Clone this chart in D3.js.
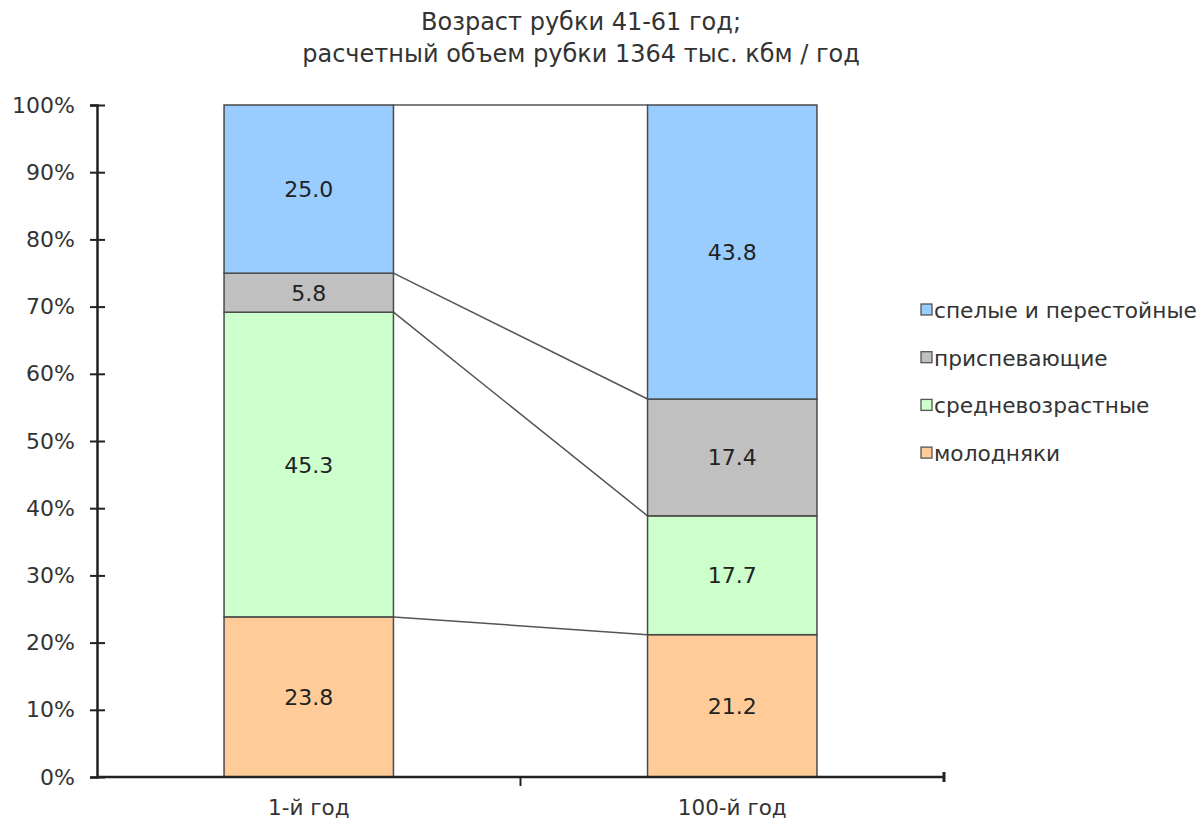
<!DOCTYPE html>
<html>
<head>
<meta charset="utf-8">
<script src="https://cdn.jsdelivr.net/npm/d3@7"></script>
<style>
  html, body { margin: 0; padding: 0; background: #fff; }
  svg { display: block; font-family: "DejaVu Sans", Verdana, sans-serif; }
</style>
</head>
<body>
<svg id="chart" width="1199" height="821"></svg>
<script>
// Доли возрастных групп по запасу, %
const categories = ["1-й год", "100-й год"];
const seriesNames = ["молодняки", "средневозрастные", "приспевающие", "спелые и перестойные"];
const molodnyaki = [23.8, 21.2];
const srednevozrastnye = [45.3, 17.7];
const prispevayushchie = [5.8, 17.4];
const spelye = [25.0, 43.8];
const yTickLabels = ["0%", "10%", "20%", "30%", "40%", "50%", "60%", "70%", "80%", "90%", "100%"];
const titleLines = ["Возраст рубки 41-61 год;", "расчетный объем рубки 1364 тыс. кбм / год"];

const colors = ["#FFCC99", "#CCFFCC", "#C0C0C0", "#99CCFF"];
const values = [molodnyaki, srednevozrastnye, prispevayushchie, spelye];

const table = categories.map((c, i) => {
  const row = { cat: c };
  seriesNames.forEach((s, j) => row[s] = values[j][i]);
  return row;
});

const svg = d3.select("#chart");
const plotLeft = 97, plotRight = 944, plotTop = 105, plotBottom = 777;

const x = d3.scaleBand().domain(categories).range([plotLeft, plotRight])
  .paddingInner(0.6).paddingOuter(0.3);
const y = d3.scaleLinear().domain([0, 1]).range([plotBottom, plotTop]);

const stacked = d3.stack().keys(seriesNames).offset(d3.stackOffsetExpand)(table);

// Title
svg.append("g").selectAll("text").data(titleLines).join("text")
  .attr("x", 581).attr("y", (d, i) => 30 + i * 32)
  .attr("text-anchor", "middle")
  .attr("font-size", 24)
  .attr("fill", "#333")
  .text(d => d);

// Series connector lines between bars
const xA = x(categories[0]) + x.bandwidth();
const xB = x(categories[1]);
svg.append("g").selectAll("line").data(stacked).join("line")
  .attr("x1", xA).attr("x2", xB)
  .attr("y1", s => y(s[0][1])).attr("y2", s => y(s[1][1]))
  .attr("stroke", "#555").attr("stroke-width", 1.5);

// Bars
const layers = svg.append("g").selectAll("g").data(stacked).join("g")
  .attr("fill", (d, i) => colors[i]);
layers.selectAll("rect").data(d => d).join("rect")
  .attr("x", d => x(d.data.cat))
  .attr("width", x.bandwidth())
  .attr("y", d => y(d[1]))
  .attr("height", d => y(d[0]) - y(d[1]))
  .attr("stroke", "#4a4a4a").attr("stroke-width", 1.5);

// Value labels
layers.selectAll("text").data((d) => d.map(p => ({ p, key: d.key }))).join("text")
  .attr("x", d => x(d.p.data.cat) + x.bandwidth() / 2)
  .attr("y", d => (y(d.p[0]) + y(d.p[1])) / 2 + 8)
  .attr("text-anchor", "middle")
  .attr("font-size", 22)
  .attr("fill", "#222")
  .text(d => d.p.data[d.key].toFixed(1));

// Y axis
const yAxis = d3.axisLeft(y).tickValues(d3.range(0, 1.0001, 0.1))
  .tickFormat((d, i) => yTickLabels[i]).tickSize(7).tickPadding(15);
const gy = svg.append("g").attr("transform", `translate(${plotLeft},0)`).call(yAxis);
gy.select(".domain").attr("stroke", "#222").attr("stroke-width", 2.5);
gy.selectAll(".tick line").attr("x2", 8).attr("x1", -7).attr("stroke", "#222").attr("stroke-width", 2);
gy.selectAll(".tick text").attr("font-size", 22).attr("fill", "#333")
  .attr("font-family", "DejaVu Sans, Verdana, sans-serif");

// X axis
const step = x.step();
const bounds = [plotLeft + step * x.paddingOuter() + x.bandwidth() + step * x.paddingInner() / 2];
const gx = svg.append("g");
gx.append("line").attr("x1", plotLeft).attr("x2", plotRight).attr("y1", plotBottom).attr("y2", plotBottom)
  .attr("stroke", "#222").attr("stroke-width", 2.5);
gx.selectAll("line.tk").data(bounds).join("line").attr("class", "tk")
  .attr("x1", d => d).attr("x2", d => d).attr("y1", plotBottom).attr("y2", plotBottom + 9)
  .attr("stroke", "#222").attr("stroke-width", 2);
gx.append("line").attr("x1", plotRight).attr("x2", plotRight).attr("y1", plotBottom - 5).attr("y2", plotBottom + 5)
  .attr("stroke", "#222").attr("stroke-width", 3);
gx.selectAll("text").data(categories).join("text")
  .attr("x", d => x(d) + x.bandwidth() / 2).attr("y", 815)
  .attr("text-anchor", "middle").attr("font-size", 21.5).attr("fill", "#333")
  .text(d => d);

// Legend
const legendOrder = seriesNames.map((s, i) => i).reverse();
const lg = svg.append("g").selectAll("g").data(legendOrder).join("g")
  .attr("transform", (d, i) => `translate(921, ${310 + i * 47.7})`);
lg.append("rect").attr("x", 0).attr("y", -6).attr("width", 11).attr("height", 11)
  .attr("fill", d => colors[d]).attr("stroke", "#555").attr("stroke-width", 1.3);
lg.append("text").attr("x", 13).attr("y", 8).attr("font-size", 21.7).attr("fill", "#333")
  .text(d => seriesNames[d]);
</script>
</body>
</html>
